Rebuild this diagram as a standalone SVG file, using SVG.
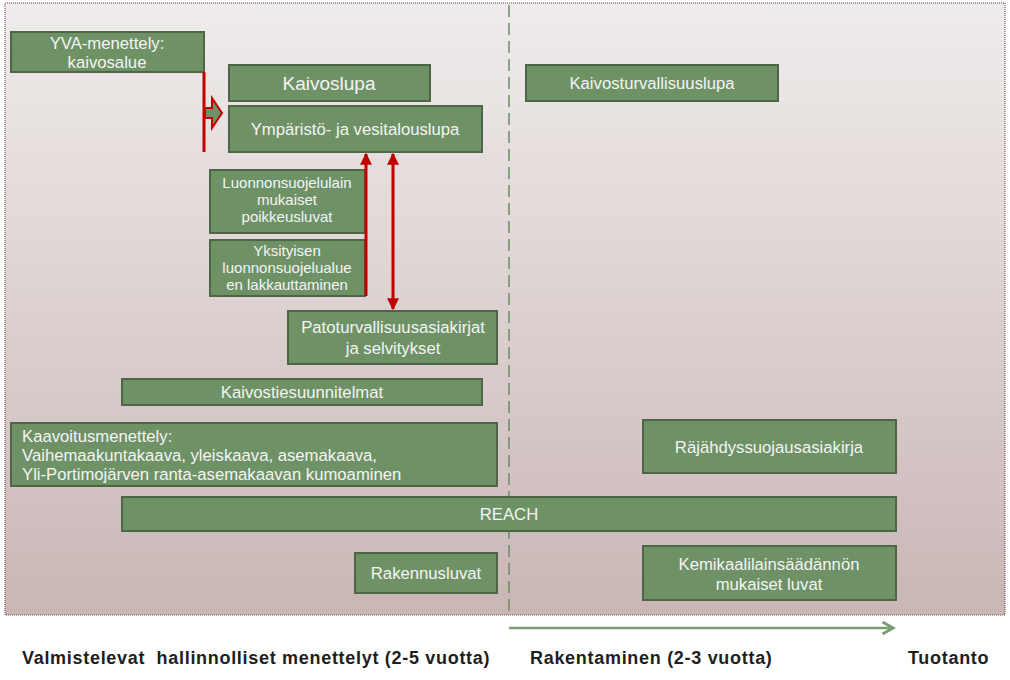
<svg xmlns="http://www.w3.org/2000/svg" width="1010" height="680" viewBox="0 0 1010 680">
<defs>
<linearGradient id="bg" x1="0" y1="0" x2="0" y2="1">
<stop offset="0" stop-color="#f0ecec"/>
<stop offset="1" stop-color="#c9b6b5"/>
</linearGradient>
<marker id="ar" viewBox="0 0 10 10" refX="9" refY="5" markerWidth="4" markerHeight="4" orient="auto-start-reverse" markerUnits="strokeWidth">
<path d="M0,0 L10,5 L0,10 z" fill="#c00000"/>
</marker>
<marker id="ga" viewBox="0 0 10 10" refX="8" refY="5" markerWidth="6" markerHeight="6" orient="auto">
<path d="M1,1 L8,5 L1,9" fill="none" stroke="#7a9e72" stroke-width="2"/>
</marker>
</defs>
<style>
.box{fill:#6e9266;stroke:#4d6648;stroke-width:2}
.t{font-family:"Liberation Sans",Arial,sans-serif;font-size:16.7px;fill:#f4f4f4;text-anchor:middle}
.ts{font-size:15px}
.tl{text-anchor:start}
.lab{font-family:"Liberation Sans",Arial,sans-serif;font-size:18px;font-weight:bold;fill:#1e1e1e;letter-spacing:0.7px}
.red{stroke:#c00000;stroke-width:3;fill:none}
</style>
<rect x="5" y="3" width="1000" height="612" fill="url(#bg)" stroke="#6b4040" stroke-width="1" stroke-dasharray="1,1"/>
<line x1="509" y1="5" x2="509" y2="615" stroke="#6e8a66" stroke-width="1.5" stroke-dasharray="12,6"/>

<g id="yva"><rect class="box" x="11" y="32" width="193" height="40"/>
<text class="t" x="107" y="49">YVA-menettely:</text><text class="t" x="107" y="68">kaivosalue</text></g>
<g id="kaivoslupa"><rect class="box" x="229" y="65" width="201" height="36"/>
<text class="t" x="329" y="90" style="font-size:19px">Kaivoslupa</text></g>
<g id="ymparisto"><rect class="box" x="229" y="106" width="253" height="46"/>
<text class="t" x="355" y="135">Ympäristö- ja vesitalouslupa</text></g>
<g id="luonnonsuojelu"><rect class="box" x="210" y="170" width="155" height="63"/>
<text class="t ts" x="287" y="188">Luonnonsuojelulain</text><text class="t ts" x="287" y="205">mukaiset</text><text class="t ts" x="287" y="222">poikkeusluvat</text></g>
<g id="yksityisen"><rect class="box" x="210" y="240" width="155" height="56"/>
<text class="t ts" x="287" y="256">Yksityisen</text><text class="t ts" x="287" y="273">luonnonsuojelualue</text><text class="t ts" x="287" y="290">en lakkauttaminen</text></g>
<g id="pato"><rect class="box" x="288" y="311" width="209" height="53"/>
<text class="t" x="393" y="333">Patoturvallisuusasiakirjat</text><text class="t" x="393" y="354">ja selvitykset</text></g>
<g id="kaivostie"><rect class="box" x="122" y="379" width="360" height="26"/>
<text class="t" x="302" y="398">Kaivostiesuunnitelmat</text></g>
<g id="kaavoitus"><rect class="box" x="11" y="423" width="486" height="63"/>
<text class="t tl" x="22" y="442">Kaavoitusmenettely:</text><text class="t tl" x="22" y="461">Vaihemaakuntakaava, yleiskaava, asemakaava,</text><text class="t tl" x="22" y="480">Yli-Portimojärven ranta-asemakaavan kumoaminen</text></g>
<g id="reach"><rect class="box" x="122" y="497" width="774" height="34"/>
<text class="t" x="509" y="520">REACH</text></g>
<g id="rakennusluvat"><rect class="box" x="355" y="553" width="142" height="40"/>
<text class="t" x="426" y="579">Rakennusluvat</text></g>
<g id="kaivosturvallisuus"><rect class="box" x="526" y="65" width="252" height="36"/>
<text class="t" x="652" y="89">Kaivosturvallisuuslupa</text></g>
<g id="rajahdys"><rect class="box" x="643" y="420" width="253" height="53"/>
<text class="t" x="769" y="453">Räjähdyssuojausasiakirja</text></g>
<g id="kemikaali"><rect class="box" x="643" y="546" width="253" height="54"/>
<text class="t" x="769" y="570">Kemikaalilainsäädännön</text><text class="t" x="769" y="590">mukaiset luvat</text></g>

<g id="connectors">
<line class="red" x1="204" y1="72" x2="204" y2="152"/>
<path d="M205,108 L212,108 L212,98 L222,113 L212,128 L212,118 L205,118 z" fill="#6e9266" stroke="#c00000" stroke-width="2"/>
<line class="red" x1="366" y1="296" x2="366" y2="154" marker-end="url(#ar)"/>
<line class="red" x1="393" y1="154" x2="393" y2="309" marker-start="url(#ar)" marker-end="url(#ar)"/>
<line x1="509" y1="628" x2="893" y2="628" stroke="#7a9e72" stroke-width="2.5" marker-end="url(#ga)"/>
</g>

<text class="lab" x="22" y="664" xml:space="preserve">Valmistelevat  hallinnolliset menettelyt (2-5 vuotta)</text>
<text class="lab" x="530" y="664">Rakentaminen (2-3 vuotta)</text>
<text class="lab" x="908" y="664">Tuotanto</text>
</svg>
